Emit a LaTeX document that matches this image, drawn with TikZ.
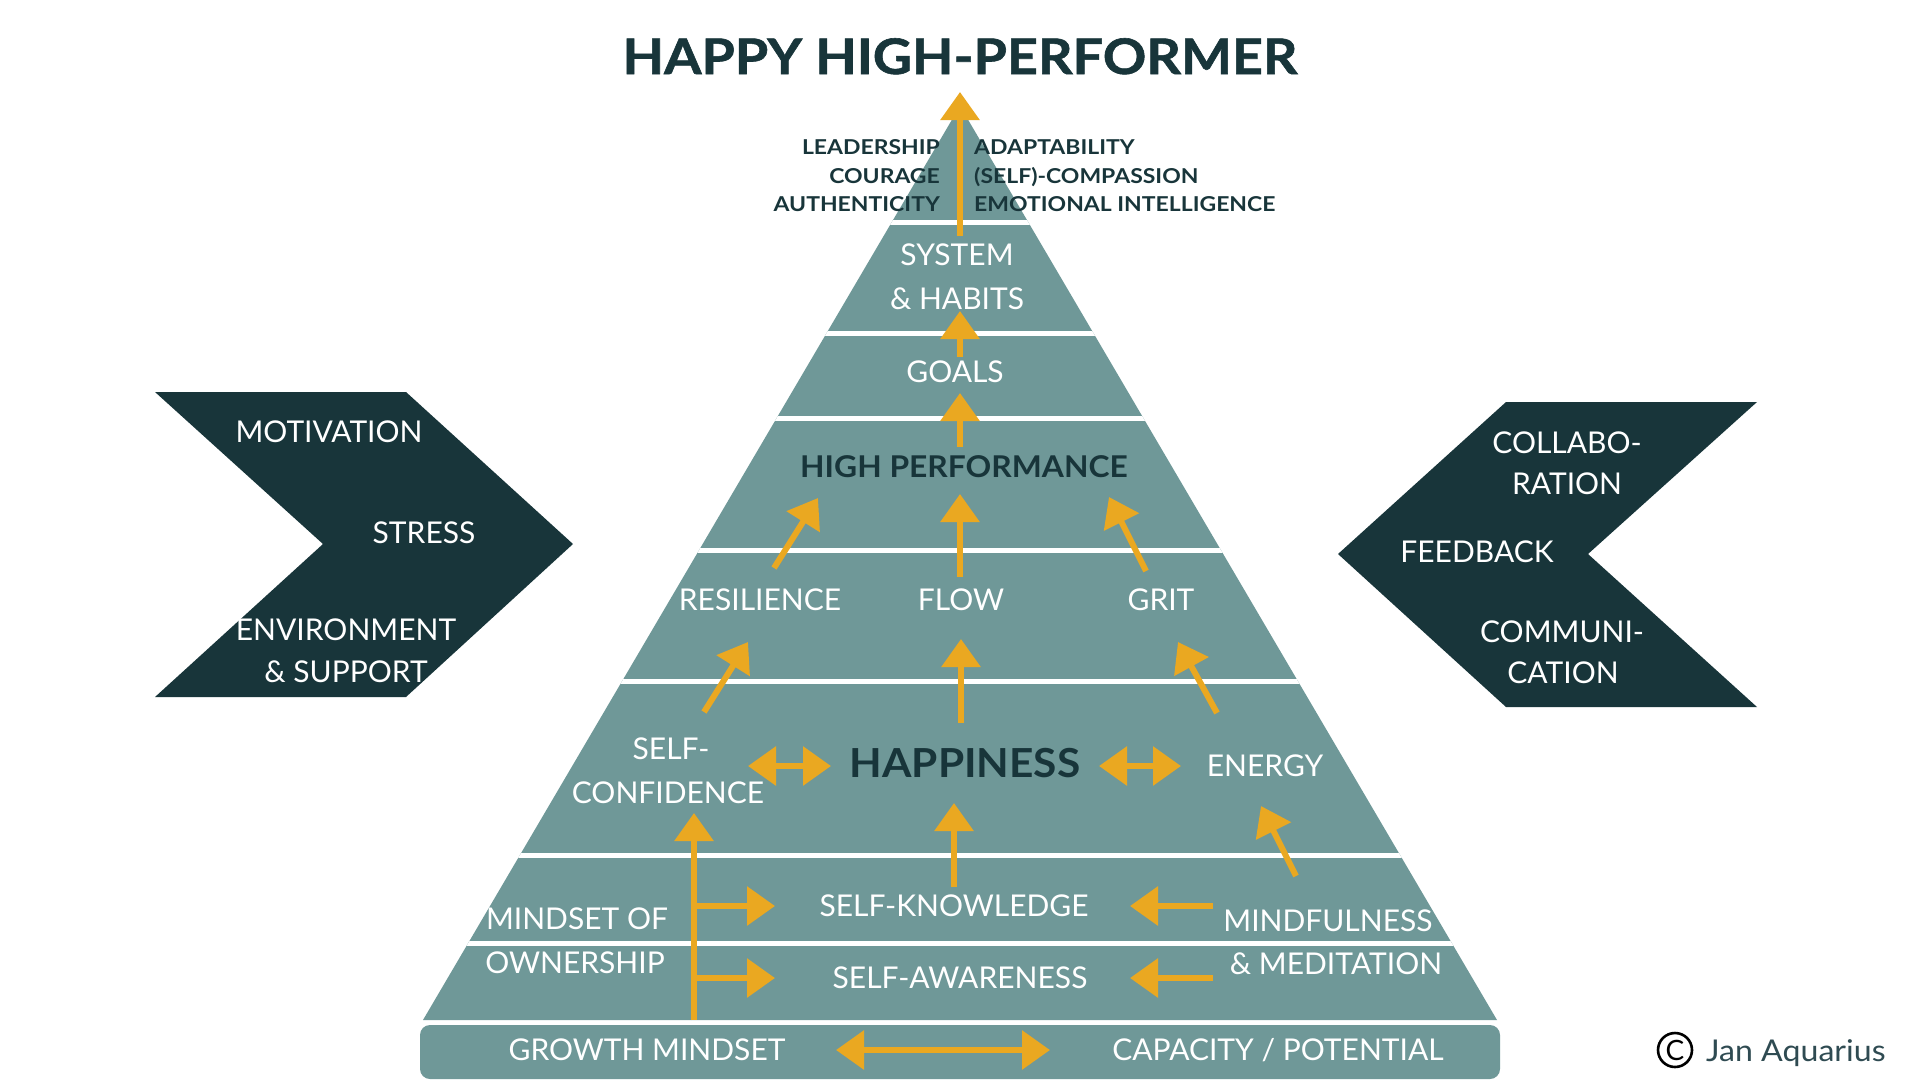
\documentclass[tikz,border=0pt]{standalone}
\usepackage{fontspec}
\setmainfont{Lato}
\newfontfamily\titlefam[FakeStretch=1.1,FakeBold=1.2]{Lato}
\newfontfamily\boldfam[FakeStretch=1.06]{Lato}
\newfontfamily\topfam[FakeStretch=1.12]{Lato}
\newfontfamily\signfam[FakeStretch=1.07]{Lato}
\usetikzlibrary{arrows.meta}
\definecolor{pyr}{RGB}{111,152,152}
\definecolor{darkt}{RGB}{24,53,58}
\definecolor{gold}{RGB}{234,168,33}
\definecolor{signc}{RGB}{47,75,82}
\tikzset{
  wlab/.style={text=white, font=\fontsize{30}{30}\selectfont, anchor=base, inner sep=0pt},
  dlab/.style={text=darkt, font=\boldfam\bfseries\fontsize{30}{30}\selectfont, anchor=base, inner sep=0pt},
  toplabL/.style={text=darkt, font=\topfam\bfseries\fontsize{20.5}{20.5}\selectfont, anchor=base east, inner sep=0pt},
  toplabR/.style={text=darkt, font=\topfam\bfseries\fontsize{20.5}{20.5}\selectfont, anchor=base west, inner sep=0pt},
  garr/.style={draw=gold, line width=6pt, -{Triangle[length=28pt,width=38pt]}},
  gdarr/.style={draw=gold, line width=6pt, {Triangle[length=28pt,width=38pt]}-{Triangle[length=28pt,width=38pt]}},
}
\begin{document}
\begin{tikzpicture}[x=1pt,y=-1pt]
\useasboundingbox (0,0) rectangle (1920,1080);
\fill[white] (0,0) rectangle (1920,1080);

% title
\node[text=darkt, font=\titlefam\bfseries\fontsize{49}{49}\selectfont, anchor=base, inner sep=0pt] (title) at (960,74) {HAPPY HIGH-PERFORMER};

% pyramid
\coordinate (apex) at (960,106);
\coordinate (bl) at (423,1020);
\coordinate (br) at (1497,1020);
\fill[pyr] (apex) -- (br) -- (bl) -- cycle;
\fill[pyr, rounded corners=10pt] (420,1025) rectangle (1500,1079);
\begin{scope}
\clip (apex) -- (br) -- (bl) -- cycle;
\foreach \g in {222,333.5,418.5,550.5,681.5,855.5,943.5}
  \draw[white, line width=5pt] (400,\g) -- (1520,\g);
\end{scope}

% chevrons
\fill[darkt] (155,392) -- (406,392) -- (573,544) -- (406,697) -- (155,697) -- (323,544) -- cycle;
\fill[darkt] (1506,402) -- (1757,402) -- (1588,554) -- (1757,707) -- (1506,707) -- (1338,554) -- cycle;

% top labels
\node[toplabL] (lead) at (940,154) {LEADERSHIP};
\node[toplabL] (cour) at (940,183) {COURAGE};
\node[toplabL] (auth) at (940,211) {AUTHENTICITY};
\node[toplabR] (adap) at (974,154) {ADAPTABILITY};
\node[toplabR] (comp) at (974,183) {(SELF)-COMPASSION};
\node[toplabR] (emot) at (974,211) {EMOTIONAL INTELLIGENCE};

% pyramid labels
\node[wlab] (sys1) at (957,265) {SYSTEM};
\node[wlab] (sys2) at (957,309) {\& HABITS};
\node[wlab] (goals) at (955,382) {GOALS};
\node[dlab] (hp) at (964,477) {HIGH PERFORMANCE};
\node[wlab] (res) at (760,610) {RESILIENCE};
\node[wlab] (flow) at (961,610) {FLOW};
\node[wlab] (grit) at (1161,610) {GRIT};
\node[wlab] (sc1) at (671,759) {SELF-};
\node[wlab] (sc2) at (668,803) {CONFIDENCE};
\node[dlab, font=\boldfam\bfseries\fontsize{40}{40}\selectfont] (happy) at (965,777) {HAPPINESS};
\node[wlab] (energy) at (1265,776) {ENERGY};
\node[wlab] (sk) at (954,916) {SELF-KNOWLEDGE};
\node[wlab] (sa) at (960,988) {SELF-AWARENESS};
\node[wlab] (mo1) at (577,929) {MINDSET OF};
\node[wlab] (mo2) at (575,973) {OWNERSHIP};
\node[wlab] (mf1) at (1328,931) {MINDFULNESS};
\node[wlab] (mf2) at (1336,974) {\& MEDITATION};
\node[wlab] (gm) at (647,1060) {GROWTH MINDSET};
\node[wlab] (cap) at (1278,1060) {CAPACITY / POTENTIAL};

% chevron labels
\node[wlab] (mot) at (329,442) {MOTIVATION};
\node[wlab] (stress) at (424,543) {STRESS};
\node[wlab] (env1) at (346,640) {ENVIRONMENT};
\node[wlab] (env2) at (346,682) {\& SUPPORT};
\node[wlab] (col1) at (1567,453) {COLLABO-};
\node[wlab] (col2) at (1567,494) {RATION};
\node[wlab] (fb) at (1477,562) {FEEDBACK};
\node[wlab] (com1) at (1562,642) {COMMUNI-};
\node[wlab] (com2) at (1563,683) {CATION};

% arrow coordinates
\coordinate (t0) at (960,236); \coordinate (t1) at (960,92);
\coordinate (s0) at (960,357); \coordinate (s1) at (960,311);
\coordinate (g0) at (960,447); \coordinate (g1) at (960,393);
\coordinate (r0) at (774,568); \coordinate (r1) at (818,498);
\coordinate (f0) at (960,577); \coordinate (f1) at (960,494);
\coordinate (k0) at (1146,571); \coordinate (k1) at (1109,497);
\coordinate (c0) at (704,712); \coordinate (c1) at (748,642);
\coordinate (h0) at (961,723); \coordinate (h1) at (961,639);
\coordinate (e0) at (1217,713); \coordinate (e1) at (1178,642);
\coordinate (v0) at (694,1020); \coordinate (v1) at (694,813);
\coordinate (b1a) at (694,906); \coordinate (b1b) at (775,906);
\coordinate (b2a) at (694,978); \coordinate (b2b) at (775,978);
\coordinate (q0) at (954,887); \coordinate (q1) at (954,803);
\coordinate (m0) at (1296,876); \coordinate (m1) at (1261,806);
\coordinate (n1a) at (1213,906); \coordinate (n1b) at (1130,906);
\coordinate (n2a) at (1213,978); \coordinate (n2b) at (1130,978);
\coordinate (d1a) at (748,766); \coordinate (d1b) at (831,766);
\coordinate (d2a) at (1099,766); \coordinate (d2b) at (1181,766);
\coordinate (d3a) at (836,1050); \coordinate (d3b) at (1050,1050);

\draw[garr] (t0) -- (t1);
\draw[garr] (s0) -- (s1);
\draw[garr] (g0) -- (g1);
\draw[garr] (r0) -- (r1);
\draw[garr] (f0) -- (f1);
\draw[garr] (k0) -- (k1);
\draw[garr] (c0) -- (c1);
\draw[garr] (h0) -- (h1);
\draw[garr] (e0) -- (e1);
\draw[garr] (v0) -- (v1);
\draw[garr] (b1a) -- (b1b);
\draw[garr] (b2a) -- (b2b);
\draw[garr] (q0) -- (q1);
\draw[garr] (m0) -- (m1);
\draw[garr] (n1a) -- (n1b);
\draw[garr] (n2a) -- (n2b);
\draw[gdarr] (d1a) -- (d1b);
\draw[gdarr] (d2a) -- (d2b);
\draw[gdarr] (d3a) -- (d3b);

% signature
\node[circle, draw=black, line width=2.6pt, minimum size=34pt, inner sep=0pt, font=\fontsize{28}{28}\selectfont] (copy) at (1675,1050) {C};
\node[text=signc, font=\signfam\fontsize{30}{30}\selectfont, anchor=base west, inner sep=0pt] (sign) at (1706,1061) {Jan Aquarius};
\end{tikzpicture}
\end{document}
